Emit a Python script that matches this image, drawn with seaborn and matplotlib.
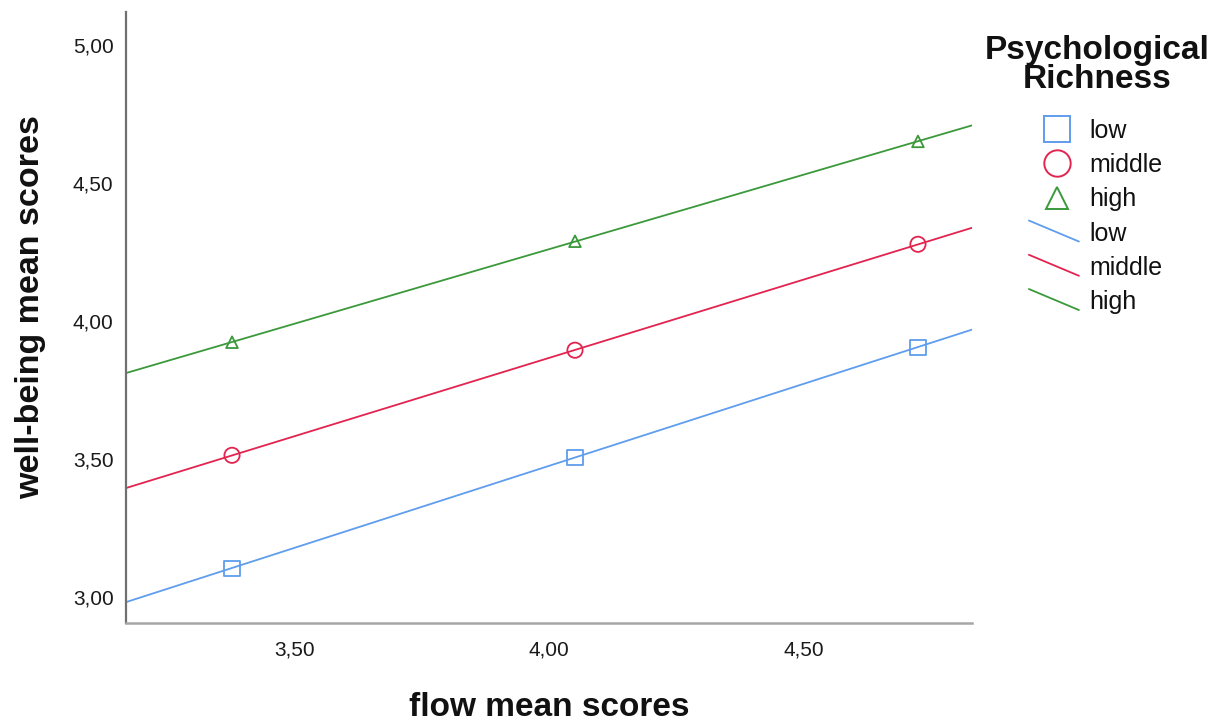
import numpy as np
import pandas as pd
import matplotlib
matplotlib.use('Agg')
import matplotlib.pyplot as plt
from matplotlib.lines import Line2D
from matplotlib.legend_handler import HandlerBase
import seaborn as sns

# values
groups = ['low', 'middle', 'high']
flow_levels = [3.378, 4.051, 4.724]
wb_low = [3.105, 3.507, 3.906]
wb_middle = [3.514, 3.895, 4.279]
wb_high = [3.924, 4.290, 4.652]

x_ticks = [3.5, 4.0, 4.5]
x_tick_labels = ['3,50', '4,00', '4,50']
y_ticks = [3.0, 3.5, 4.0, 4.5, 5.0]
y_tick_labels = ['3,00', '3,50', '4,00', '4,50', '5,00']

colors = {'low': '#5f9ded', 'middle': '#e2244f', 'high': '#3b993b'}
markers = {'low': 's', 'middle': 'o', 'high': '^'}

df = pd.DataFrame({
    'flow': flow_levels * 3,
    'wellbeing': wb_low + wb_middle + wb_high,
    'richness': [g for g in groups for _ in flow_levels],
})

sns.set_theme(style='white')
plt.rcParams['font.family'] = ['Liberation Sans', 'DejaVu Sans']
plt.rcParams['text.color'] = '#111111'

fig = plt.figure(figsize=(12.2, 7.24), dpi=100)
ax = fig.add_axes([0.1033, 0.1395, 0.6934, 0.8435])
ax.set_xlim(3.17, 4.83)
ax.set_ylim(2.906, 5.12)

for g in groups:
    sub = df[df['richness'] == g]
    # fit line over the whole x range
    sns.regplot(data=sub, x='flow', y='wellbeing', ax=ax, scatter=False, ci=None,
                truncate=False, color=colors[g], line_kws={'lw': 1.3})
    sns.scatterplot(data=sub, x='flow', y='wellbeing', ax=ax, marker=markers[g],
                    s=120 if g != 'high' else 70, color=colors[g],
                    facecolors='none', edgecolor=colors[g], linewidth=1.3, zorder=3)

ax.set_xlim(3.17, 4.83)
ax.set_ylim(2.906, 5.12)
ax.set_xticks(x_ticks)
ax.set_xticklabels(x_tick_labels)
ax.set_yticks(y_ticks)
ax.set_yticklabels(y_tick_labels)
ax.tick_params(axis='both', length=0, labelsize=15, colors='#1a1a1a')
ax.tick_params(axis='x', pad=12.5)
ax.tick_params(axis='y', pad=9)

sns.despine(ax=ax)
ax.spines['left'].set_color('#707070')
ax.spines['left'].set_linewidth(1.6)
ax.spines['bottom'].set_color('#a6a6a6')
ax.spines['bottom'].set_linewidth(1.8)

ax.set_xlabel('flow mean scores', fontsize=24, fontweight='bold', va='center', color='#111111')
ax.set_ylabel('well-being mean scores', fontsize=24.5, fontweight='bold', va='center', color='#111111')
ax.xaxis.set_label_coords(0.5, -0.139)
ax.yaxis.set_label_coords(-0.113, 0.517)


class SlantHandler(HandlerBase):
    def create_artists(self, legend, orig_handle, xdescent, ydescent, width, height,
                       fontsize, trans):
        line = Line2D([-xdescent - 2, -xdescent + width - 2],
                      [-ydescent + height * 1.15, -ydescent - height * 0.05],
                      color=orig_handle.get_color(), lw=orig_handle.get_linewidth())
        line.set_transform(trans)
        return [line]


marker_handles = [Line2D([], [], ls='', marker=markers[g], markersize=19 if g != 'high' else 16,
                         mfc='none', mec=colors[g], mew=1.4) for g in groups]
line_handles = [Line2D([], [], color=colors[g], lw=1.3) for g in groups]
handler_map = {h: SlantHandler() for h in line_handles}

leg = ax.legend(marker_handles + line_handles, groups + groups,
                title='Psychological\nRichness', loc='upper center',
                bbox_to_anchor=(1097 / 1220, 1 - 12 / 724), bbox_transform=fig.transFigure,
                frameon=False, fontsize=18, title_fontsize=24, handlelength=2.0,
                handletextpad=0.3, labelspacing=0.41, handler_map=handler_map)
leg.get_title().set_fontweight('bold')
leg.get_title().set_multialignment('center')
leg.get_title().set_linespacing(0.95)
leg._legend_box.sep = 17

fig.savefig('out.png', dpi=100)
